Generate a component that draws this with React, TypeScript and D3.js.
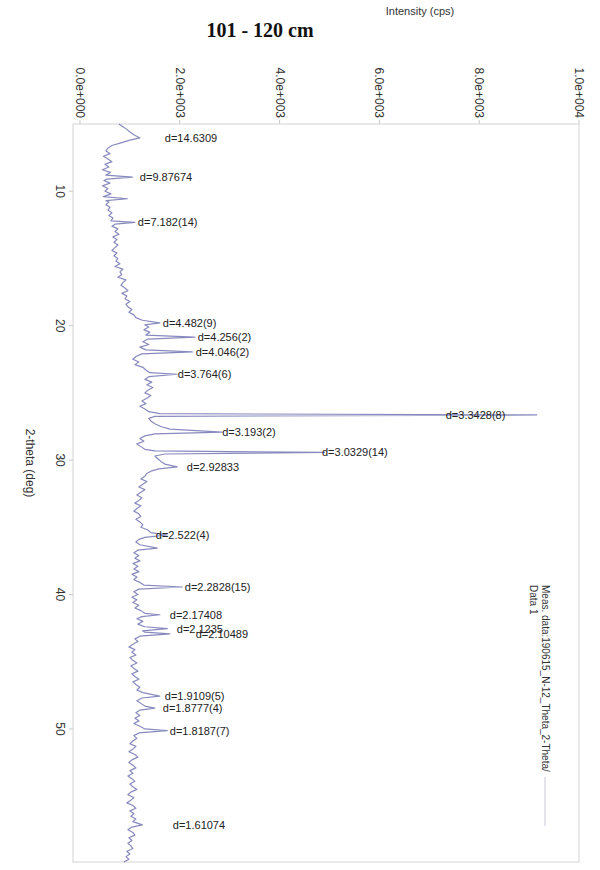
import React, { useRef, useEffect } from 'react';
import * as d3 from 'd3';

// measured trace: [2-theta (deg), intensity (cps)]
const trace: [number, number][] = [
  [5.0, 780], [5.2, 860], [5.4, 940], [5.6, 1000], [5.8, 1080], [6.036, 1200], [6.2, 1000], [6.4, 820], [6.6, 640], [6.8, 560],
  [7.0, 520], [7.2, 600], [7.4, 470], [7.6, 560], [7.8, 640], [8.0, 500], [8.2, 580], [8.4, 450], [8.6, 610], [8.8, 520],
  [8.946, 1050], [9.1, 540], [9.2, 480], [9.4, 600], [9.6, 450], [9.8, 560], [10.0, 500], [10.2, 620], [10.4, 470], [10.56, 950],
  [10.7, 520], [10.8, 580], [11.0, 520], [11.2, 600], [11.4, 560], [11.6, 640], [11.8, 580], [12.0, 660], [12.2, 620], [12.314, 1100],
  [12.45, 700], [12.6, 640], [12.8, 760], [13.0, 700], [13.2, 780], [13.4, 660], [13.6, 740], [13.8, 680], [14.0, 760], [14.2, 700],
  [14.4, 640], [14.6, 740], [14.8, 680], [15.0, 760], [15.2, 720], [15.4, 800], [15.6, 700], [15.8, 860], [16.0, 800], [16.2, 840],
  [16.4, 760], [16.6, 920], [16.8, 860], [17.0, 820], [17.2, 900], [17.4, 960], [17.6, 840], [17.8, 940], [18.0, 900], [18.2, 1000],
  [18.4, 920], [18.6, 960], [18.8, 1040], [19.0, 980], [19.2, 1080], [19.4, 1120], [19.6, 1250], [19.792, 1600], [19.95, 1300],
  [20.1, 1380], [20.3, 1280], [20.5, 1400], [20.7, 1320], [20.855, 2300], [21.0, 1360], [21.2, 1260], [21.4, 1380], [21.6, 1200],
  [21.8, 1320], [21.951, 2250], [22.1, 1240], [22.3, 1120], [22.5, 1060], [22.7, 1180], [22.9, 1100], [23.1, 1260], [23.3, 1320],
  [23.5, 1400], [23.617, 1950], [23.8, 1380], [24.0, 1300], [24.2, 1440], [24.4, 1340], [24.6, 1460], [24.8, 1360], [25.0, 1300],
  [25.2, 1420], [25.4, 1340], [25.6, 1240], [25.8, 1320], [26.0, 1200], [26.2, 1300], [26.4, 1380], [26.55, 1600], [26.645, 9150],
  [26.75, 1500], [26.9, 1380], [27.1, 1420], [27.3, 1500], [27.5, 1620], [27.7, 1800], [27.92, 2850], [28.05, 1500], [28.2, 1300],
  [28.4, 1200], [28.6, 1280], [28.8, 1140], [29.0, 1220], [29.2, 1300], [29.32, 1500], [29.427, 4900], [29.55, 1700], [29.7, 1500],
  [29.9, 1560], [30.1, 1620], [30.3, 1700], [30.504, 1950], [30.65, 1580], [30.8, 1440], [31.0, 1340], [31.2, 1300], [31.4, 1220],
  [31.6, 1340], [31.8, 1260], [32.0, 1180], [32.2, 1300], [32.4, 1220], [32.6, 1140], [32.8, 1240], [33.0, 1180], [33.2, 1100],
  [33.4, 1220], [33.6, 1140], [33.8, 1080], [34.0, 1180], [34.2, 1220], [34.4, 1120], [34.6, 1200], [34.8, 1260], [35.0, 1220],
  [35.2, 1360], [35.4, 1420], [35.573, 1750], [35.75, 1300], [35.9, 1180], [36.1, 1120], [36.3, 1200], [36.55, 1550], [36.7, 1160],
  [36.9, 1080], [37.1, 1180], [37.3, 1100], [37.5, 1200], [37.7, 1060], [37.9, 1160], [38.1, 1080], [38.3, 1180], [38.5, 1040],
  [38.7, 1140], [38.9, 1080], [39.1, 1200], [39.3, 1280], [39.442, 2050], [39.6, 1180], [39.8, 1080], [40.0, 1160], [40.2, 1040],
  [40.4, 1140], [40.6, 1060], [40.8, 1180], [41.0, 1100], [41.2, 1220], [41.4, 1300], [41.505, 1600], [41.65, 1240], [41.8, 1140],
  [42.0, 1260], [42.2, 1160], [42.4, 1300], [42.541, 1750], [42.7, 1250], [42.8, 1300], [42.935, 1800], [43.1, 1200], [43.3, 1100],
  [43.5, 1160], [43.7, 1060], [43.9, 980], [44.1, 1100], [44.3, 1040], [44.5, 1120], [44.7, 1000], [44.9, 1060], [45.1, 1140],
  [45.3, 1020], [45.5, 1080], [45.7, 1160], [45.9, 1040], [46.1, 1100], [46.3, 1180], [46.5, 1060], [46.7, 1120], [46.9, 1200],
  [47.1, 1140], [47.3, 1260], [47.555, 1600], [47.7, 1240], [47.9, 1140], [48.1, 1220], [48.3, 1300], [48.447, 1500], [48.6, 1200],
  [48.8, 1120], [49.0, 1200], [49.2, 1100], [49.4, 1180], [49.6, 1080], [49.8, 1200], [50.0, 1300], [50.122, 1750], [50.3, 1180],
  [50.5, 1080], [50.7, 1140], [50.9, 1060], [51.1, 1000], [51.3, 1120], [51.5, 1060], [51.7, 980], [51.9, 1100], [52.1, 1160],
  [52.3, 1040], [52.5, 980], [52.7, 1060], [52.9, 1120], [53.1, 1000], [53.3, 1060], [53.5, 960], [53.7, 1040], [53.9, 1100],
  [54.1, 1000], [54.3, 1060], [54.5, 1140], [54.7, 1020], [54.9, 960], [55.1, 1080], [55.3, 1020], [55.5, 940], [55.7, 1060],
  [55.9, 1120], [56.1, 1000], [56.3, 1080], [56.5, 1020], [56.7, 1120], [56.9, 1060], [57.142, 1250], [57.3, 1040], [57.5, 960],
  [57.7, 1060], [57.9, 1100], [58.1, 980], [58.3, 1040], [58.5, 960], [58.7, 1020], [58.9, 1060], [59.1, 940], [59.3, 1000],
  [59.5, 920], [59.7, 980], [59.9, 880],
];

// peak labels: 2-theta, d-spacing text, intensity where the label starts
const peakTheta = [6.036, 8.946, 12.314, 19.792, 20.855, 21.951, 23.617, 26.645, 27.92, 29.427, 30.504, 35.573, 39.442, 41.505, 42.541, 42.935, 47.555, 48.447, 50.122, 57.142];
const peakText = ['d=14.6309', 'd=9.87674', 'd=7.182(14)', 'd=4.482(9)', 'd=4.256(2)', 'd=4.046(2)', 'd=3.764(6)', 'd=3.3428(8)', 'd=3.193(2)', 'd=3.0329(14)', 'd=2.92833', 'd=2.522(4)', 'd=2.2828(15)', 'd=2.17408', 'd=2.1235', 'd=2.10489', 'd=1.9109(5)', 'd=1.8777(4)', 'd=1.8187(7)', 'd=1.61074'];
const peakLabelCps = [1700, 1200, 1160, 1660, 2360, 2320, 1960, 7330, 2850, 4850, 2140, 1520, 2100, 1800, 1940, 2320, 1700, 1660, 1800, 1860];

const intensityTicks = [0, 2000, 4000, 6000, 8000, 10000];
const intensityTickText = ['0.0e+000', '2.0e+003', '4.0e+003', '6.0e+003', '8.0e+003', '1.0e+004'];
const thetaTicks = [10, 20, 30, 40, 50];

const sans = 'Arial, "Liberation Sans", sans-serif';

const App: React.FC = () => {
  const svgRef = useRef<SVGSVGElement>(null);

  useEffect(() => {
    if (!svgRef.current) return;
    const svg = d3.select(svgRef.current);
    svg.selectAll('*').remove();

    const frame = { left: 73, right: 579, top: 124, bottom: 862 };

    const xScale = d3.scaleLinear().domain([-140, 10000]).range([frame.left, frame.right]);
    const yScale = d3.scaleLinear().domain([5.0, 59.9]).range([frame.top, frame.bottom]);

    // title + axis title
    svg.append('text')
      .attr('x', 260).attr('y', 37)
      .attr('text-anchor', 'middle')
      .style('font-family', '"Times New Roman", "Liberation Serif", serif')
      .style('font-weight', 'bold')
      .style('font-size', '20px')
      .style('fill', '#111')
      .text('101 - 120 cm');

    svg.append('text')
      .attr('x', 420).attr('y', 15)
      .attr('text-anchor', 'middle')
      .style('font-family', sans)
      .style('font-size', '11px')
      .style('fill', '#333')
      .text('Intensity (cps)');

    // frame
    svg.append('rect')
      .attr('x', frame.left).attr('y', frame.top)
      .attr('width', frame.right - frame.left)
      .attr('height', frame.bottom - frame.top)
      .attr('fill', 'none')
      .attr('stroke', '#d4d4d4')
      .attr('stroke-width', 1);

    // intensity ticks (top)
    const xt = svg.append('g');
    intensityTicks.forEach((v, i) => {
      const x = xScale(v);
      xt.append('line')
        .attr('x1', x).attr('x2', x)
        .attr('y1', frame.top).attr('y2', frame.top - 4)
        .attr('stroke', '#c8c8c8');
      xt.append('text')
        .attr('transform', `translate(${x},118) rotate(90)`)
        .attr('text-anchor', 'end')
        .attr('dominant-baseline', 'central')
        .style('font-family', sans)
        .style('font-size', '12px')
        .style('fill', '#333')
        .text(intensityTickText[i]);
    });

    // 2-theta ticks (left)
    const yt = svg.append('g');
    thetaTicks.forEach(v => {
      const y = yScale(v);
      yt.append('line')
        .attr('x1', frame.left).attr('x2', frame.left - 4)
        .attr('y1', y).attr('y2', y)
        .attr('stroke', '#c8c8c8');
      yt.append('text')
        .attr('transform', `translate(60,${y}) rotate(90)`)
        .attr('text-anchor', 'middle')
        .attr('dominant-baseline', 'central')
        .style('font-family', sans)
        .style('font-size', '12px')
        .style('fill', '#333')
        .text(v);
    });

    svg.append('text')
      .attr('transform', 'translate(30,463) rotate(90)')
      .attr('text-anchor', 'middle')
      .attr('dominant-baseline', 'central')
      .style('font-family', sans)
      .style('font-size', '12px')
      .style('fill', '#333')
      .text('2-theta (deg)');

    // measured profile
    const line = d3.line<[number, number]>()
      .x(d => xScale(d[1]))
      .y(d => yScale(d[0]));

    svg.append('path')
      .datum(trace)
      .attr('fill', 'none')
      .attr('stroke', '#6a6dae')
      .attr('stroke-width', 1.2)
      .attr('stroke-opacity', 0.8)
      .attr('stroke-linejoin', 'round')
      .attr('d', line);

    // peak labels
    const lbl = svg.append('g');
    peakTheta.forEach((t, i) => {
      lbl.append('text')
        .attr('x', xScale(peakLabelCps[i]))
        .attr('y', yScale(t))
        .attr('dominant-baseline', 'central')
        .style('font-family', sans)
        .style('font-size', '11px')
        .style('fill', '#222')
        .text(peakText[i]);
    });

    // legend
    svg.append('text')
      .attr('transform', 'translate(545,585) rotate(90)')
      .attr('dominant-baseline', 'central')
      .style('font-family', sans)
      .style('font-size', '10px')
      .style('fill', '#333')
      .text('Meas. data:190615_N-12_Theta_2-Theta/');
    svg.append('text')
      .attr('transform', 'translate(533,585) rotate(90)')
      .attr('dominant-baseline', 'central')
      .style('font-family', sans)
      .style('font-size', '10px')
      .style('fill', '#333')
      .text('Data 1');
    svg.append('line')
      .attr('x1', 545).attr('x2', 545)
      .attr('y1', 777).attr('y2', 826)
      .attr('stroke', '#c9c9dc')
      .attr('stroke-width', 1);
  }, []);

  return (
    <svg
      ref={svgRef}
      width={600}
      height={870}
      style={{ position: 'absolute', left: 0, top: 0, background: '#fff' }}
    />
  );
};

export default App;
